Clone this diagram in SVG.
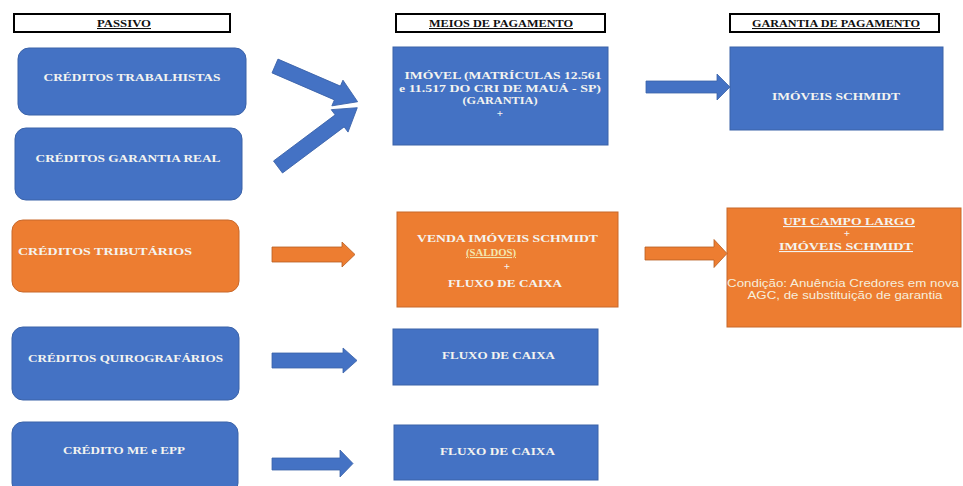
<svg xmlns="http://www.w3.org/2000/svg" width="963" height="486" viewBox="0 0 963 486">
<style>
.hdr{fill:#fff;stroke:#000;stroke-width:2}
.htx{font-family:"Liberation Serif",serif;font-weight:bold;font-size:10.5px;fill:#111;text-anchor:middle;text-decoration:underline}
.blue{fill:#4472C4;stroke:#3A62A8;stroke-width:1}
.orange{fill:#ED7D31;stroke:#C8682A;stroke-width:1}
.tx{font-family:"Liberation Serif",serif;font-weight:bold;font-size:11px;fill:#F4F4F0;text-anchor:middle}
.sm{font-family:"Liberation Sans",Arial,sans-serif;font-size:10px;fill:#F6EEDC;text-anchor:middle}
.ab{fill:#4472C4;stroke:#3A62A8;stroke-width:0.8}
.ao{fill:#ED7D31;stroke:#B65E22;stroke-width:0.8}
</style>

<g id="hdr-passivo">
<rect class="hdr" x="14" y="14" width="216" height="18"/>
<text class="htx" x="124" y="27" textLength="54" lengthAdjust="spacingAndGlyphs">PASSIVO</text>
</g>
<g id="hdr-meios">
<rect class="hdr" x="396" y="14" width="209" height="18"/>
<text class="htx" x="501" y="27" textLength="144" lengthAdjust="spacingAndGlyphs">MEIOS DE PAGAMENTO</text>
</g>
<g id="hdr-garantia">
<rect class="hdr" x="730" y="14" width="209" height="18"/>
<text class="htx" x="836" y="27" textLength="168" lengthAdjust="spacingAndGlyphs">GARANTIA DE PAGAMENTO</text>
</g>

<g id="n-trabalhistas">
<rect class="blue" x="18" y="48" width="228" height="67" rx="11"/>
<text class="tx" x="132" y="81" textLength="177" lengthAdjust="spacingAndGlyphs">CRÉDITOS TRABALHISTAS</text>
</g>
<g id="n-garantia-real">
<rect class="blue" x="15" y="128" width="227" height="72" rx="11"/>
<text class="tx" x="128" y="162" textLength="185" lengthAdjust="spacingAndGlyphs">CRÉDITOS GARANTIA REAL</text>
</g>
<g id="n-tributarios">
<rect class="orange" x="12" y="220" width="227" height="72" rx="11"/>
<text class="tx" x="18" y="255" style="text-anchor:start" textLength="174" lengthAdjust="spacingAndGlyphs">CRÉDITOS TRIBUTÁRIOS</text>
</g>
<g id="n-quirografarios">
<rect class="blue" x="12" y="327" width="227" height="73" rx="11"/>
<text class="tx" x="125.5" y="362" textLength="195" lengthAdjust="spacingAndGlyphs">CRÉDITOS QUIROGRAFÁRIOS</text>
</g>
<g id="n-me-epp">
<rect class="blue" x="12" y="422" width="226" height="72" rx="11"/>
<text class="tx" x="124" y="454" textLength="122" lengthAdjust="spacingAndGlyphs">CRÉDITO ME e EPP</text>
</g>

<g id="n-imovel">
<rect class="blue" x="393" y="47" width="215" height="98"/>
<text class="tx" x="503" y="79" textLength="197" lengthAdjust="spacingAndGlyphs">IMÓVEL (MATRÍCULAS 12.561</text>
<text class="tx" x="500" y="92" textLength="202" lengthAdjust="spacingAndGlyphs">e 11.517 DO CRI DE MAUÁ - SP)</text>
<text class="tx" x="500" y="104" textLength="75" lengthAdjust="spacingAndGlyphs">(GARANTIA)</text>
<text class="tx" x="500" y="117">+</text>
</g>
<g id="n-venda">
<rect class="orange" x="397" y="212" width="221" height="95"/>
<text class="tx" x="507.5" y="242" textLength="181" lengthAdjust="spacingAndGlyphs">VENDA IMÓVEIS SCHMIDT</text>
<text class="tx" x="491" y="256" style="text-decoration:underline;fill:#F3E7B0" textLength="50" lengthAdjust="spacingAndGlyphs">(SALDOS)</text>
<text class="tx" x="507" y="270">+</text>
<text class="tx" x="505" y="287" textLength="114" lengthAdjust="spacingAndGlyphs">FLUXO DE CAIXA</text>
</g>
<g id="n-fluxo1">
<rect class="blue" x="393" y="329" width="205" height="56"/>
<text class="tx" x="498.5" y="359" textLength="113" lengthAdjust="spacingAndGlyphs">FLUXO DE CAIXA</text>
</g>
<g id="n-fluxo2">
<rect class="blue" x="394" y="425" width="204" height="55"/>
<text class="tx" x="497.5" y="455" textLength="115" lengthAdjust="spacingAndGlyphs">FLUXO DE CAIXA</text>
</g>

<g id="n-imoveis-schmidt">
<rect class="blue" x="730" y="47" width="213" height="83"/>
<text class="tx" x="836" y="100" textLength="128" lengthAdjust="spacingAndGlyphs">IMÓVEIS SCHMIDT</text>
</g>
<g id="n-upi">
<rect class="orange" x="727" y="208" width="234" height="119"/>
<text class="tx" x="849" y="225" style="text-decoration:underline" textLength="132" lengthAdjust="spacingAndGlyphs">UPI CAMPO LARGO</text>
<text class="tx" x="847" y="237">+</text>
<text class="tx" x="846" y="250" style="text-decoration:underline" textLength="134" lengthAdjust="spacingAndGlyphs">IMÓVEIS SCHMIDT</text>
<text class="sm" x="843" y="287" textLength="232" lengthAdjust="spacingAndGlyphs">Condição: Anuência Credores em nova</text>
<text class="sm" x="845" y="299" textLength="195" lengthAdjust="spacingAndGlyphs">AGC, de substituição de garantia</text>
</g>

<g id="connectors">
<polygon class="ab" transform="translate(275,66) rotate(23.4)" points="0,-7.5 68,-7.5 68,-14 90,0 68,14 68,7.5 0,7.5"/>
<polygon class="ab" transform="translate(278,167) rotate(-36.8)" points="0,-7.5 77,-7.5 77,-14 99,0 77,14 77,7.5 0,7.5"/>
<polygon class="ab" points="646,81 717,81 717,74 730,87 717,100 717,93 646,93"/>
<polygon class="ao" points="272,247 342,247 342,242 355,254.5 342,267 342,262 272,262"/>
<polygon class="ao" points="645,247 714,247 714,239.5 727,253.5 714,267.5 714,260 645,260"/>
<polygon class="ab" points="272,353 343,353 343,348 357,360.5 343,373 343,368 272,368"/>
<polygon class="ab" points="272,458 340,458 340,450 353,463.5 340,477 340,470 272,470"/>
</g>
</svg>
